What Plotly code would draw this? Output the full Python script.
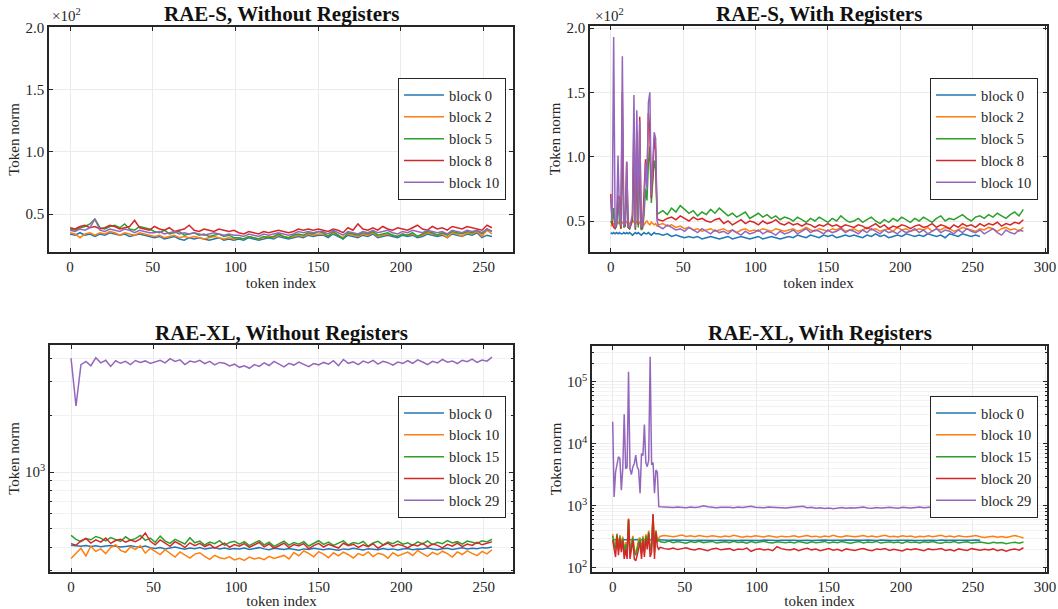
import plotly.graph_objects as go

# ---------------- data ----------------
X_LEFT = list(range(0, 256, 3))
X_RIGHT = list(range(0, 33)) + list(range(33, 288, 3))
X_RIGHT_B0 = list(range(0, 33)) + list(range(33, 256, 3))

COLORS = ["#1f77b4", "#ff7f0e", "#2ca02c", "#d62728", "#9467bd"]

# RAE-S, Without Registers (token norm)
TL_LABELS = ["block 0", "block 2", "block 5", "block 8", "block 10"]
TL_B0 = [34,33,35,33,34,32,34,33,35,34,33,34,32,33,34,33,32,
         31,32,30,31,32,30,29,31,30,31,30,29,30,31,29,30,29,
         30,29,31,30,29,30,31,30,32,31,30,31,32,31,33,32,33,
         33,31,34,32,30,33,32,31,33,32,34,31,32,33,32,31,33,
         32,33,31,32,34,33,32,33,31,34,33,32,34,33,35,31,33,32]
TL_B2 = [35,34,31,34,35,33,35,34,36,35,33,35,34,33,35,34,33,
         32,33,31,32,33,31,32,31,32,31,30,31,32,31,30,31,30,
         31,30,32,31,30,31,32,31,33,32,31,32,33,32,34,33,34,
         34,32,35,33,31,34,33,32,34,33,35,32,33,34,33,32,34,
         33,34,32,33,35,34,33,34,31,35,34,32,35,34,36,32,37,34]
TL_B5 = [38,37,39,40,42,46,39,38,40,41,39,42,38,37,40,39,38,
         36,35,37,34,35,36,33,34,35,33,34,32,33,34,32,33,31,
         31,30,32,31,30,32,31,32,34,32,31,33,34,33,35,34,36,
         35,32,36,33,30,35,34,33,35,34,36,33,34,35,33,32,34,
         33,35,32,34,36,35,33,35,33,36,35,34,36,35,37,34,38,36]
TL_B8 = [39,38,40,41,39,40,38,39,41,40,38,39,40,45,39,38,37,
         40,38,37,39,36,37,38,41,37,36,38,37,36,38,37,36,37,
         35,34,36,35,34,36,35,36,37,36,35,36,38,37,38,37,38,
         37,36,38,37,35,39,37,42,38,37,39,37,40,38,37,39,38,
         37,39,41,38,37,40,38,39,37,40,39,38,40,39,38,37,41,39]
TL_B10 = [37,36,38,37,39,46,37,36,38,37,36,38,37,35,37,36,35,
          35,36,34,35,36,34,35,34,35,34,33,34,35,34,33,34,33,
          33,32,34,33,32,34,33,34,35,34,33,34,36,35,36,35,36,
          36,34,37,35,33,36,35,34,36,35,37,35,36,37,35,34,36,
          35,37,36,35,37,36,35,36,34,37,36,35,37,36,37,35,38,36]

# RAE-S, With Registers
TR_LABELS = ["block 0", "block 2", "block 5", "block 8", "block 10"]
TR_B0 = [41,40,41,40,41,40,41,40,40,41,40,41,40,41,40,39,40,41,40,41,40,39,40,41,40,40,41,40,39,40,41,40,40,
         40,39,40,38,39,38,37,38,37,38,36,37,38,37,36,
         37,38,36,37,38,37,36,37,38,36,37,38,37,36,37,
         38,37,39,38,37,39,38,37,39,38,39,37,38,39,38,
         39,38,37,39,38,40,38,39,37,38,39,38,40,39,38,
         39,38,40,39,38,39,37,40,39,38,40,39,38,39,38]
TR_B2 = [46,47,48,47,49,48,50,47,49,48,50,49,47,48,50,51,49,48,50,47,49,50,48,47,49,50,48,47,49,48,47,48,46,
         47,48,46,47,45,46,44,45,43,44,42,43,44,42,43,
         44,42,43,41,43,44,42,43,42,44,43,42,44,43,42,
         43,44,42,43,45,43,42,44,43,42,44,43,45,42,43,
         44,42,43,45,43,44,42,43,44,42,45,43,44,42,43,
         44,43,45,42,44,43,45,44,42,43,45,44,43,42,44,
         43,45,44,42,44,45,43,44,42,45]
TR_B5 = [50,47,60,44,46,65,50,44,120,45,46,80,45,44,47,50,100,43,95,45,100,43,44,55,75,66,95,108,64,80,97,90,55,
         56,58,55,60,57,62,59,56,58,54,57,55,59,56,60,
         57,54,56,53,55,57,52,54,56,53,55,52,54,51,53,
         52,50,53,51,49,52,50,53,51,49,52,50,54,51,49,
         50,52,49,51,53,50,48,51,49,52,50,53,51,49,52,
         50,53,51,49,52,54,50,52,51,53,55,52,50,53,54,
         52,55,53,56,54,52,55,57,54,59]
TR_B8 = [71,48,45,44,47,70,68,44,150,46,47,96,45,44,48,52,130,44,120,47,131,44,46,70,98,80,134,120,68,85,115,105,52,
         51,50,52,53,51,54,52,50,53,51,52,50,49,51,52,
         48,50,47,49,51,48,50,49,47,50,48,49,51,48,47,
         49,47,48,46,48,47,45,47,46,48,46,47,45,47,46,
         45,47,46,44,46,48,45,47,44,46,45,47,46,44,46,
         47,45,46,48,45,47,46,44,47,45,48,46,47,45,48,
         46,48,47,49,46,48,47,49,48,51]
TR_B10 = [68,50,193,45,48,101,55,46,178,46,48,96,46,45,50,55,148,45,136,48,128,45,47,60,95,75,142,150,70,90,119,114,50,
          46,44,47,45,43,44,42,45,43,41,44,42,40,43,41,
          42,40,43,41,39,42,40,41,43,40,42,41,39,42,40,
          41,43,40,42,44,41,43,42,40,43,41,42,44,41,43,
          42,40,43,41,44,42,40,43,41,42,40,43,41,42,44,
          41,43,40,42,44,41,43,42,40,43,41,44,42,41,43,
          40,42,44,41,39,43,41,40,43,42]

# RAE-XL, Without Registers
BL_LABELS = ["block 0", "block 10", "block 15", "block 20", "block 29"]
BL_B0 = [410,406,405,408,404,407,402,406,409,405,401,404,407,403,400,406,398,
         394,399,392,397,401,395,390,396,393,398,391,395,399,392,396,390,394,
         391,396,389,394,398,392,388,395,391,389,394,390,386,392,389,395,391,
         388,393,390,386,392,389,395,391,387,393,390,388,394,389,392,387,391,
         394,388,392,390,396,391,388,393,395,389,392,397,391,395,393,398,396,401]
BL_B10 = [349,372,395,360,405,380,392,370,398,412,385,376,401,390,408,372,395,
          380,366,388,372,355,378,362,350,368,374,358,345,362,352,348,356,343,
          350,341,355,347,352,344,358,349,354,362,347,375,360,382,371,356,379,
          368,352,374,360,377,365,351,370,362,378,357,372,366,350,374,360,369,
          377,362,385,370,358,376,365,381,370,355,378,366,383,371,361,380,369,388]
BL_B15 = [462,440,428,445,438,456,447,432,450,441,429,454,436,444,462,435,447,
          425,458,431,419,440,427,416,449,422,431,411,426,418,433,409,424,430,
          415,428,408,420,434,412,425,404,418,431,410,423,415,428,406,421,433,
          414,426,409,420,432,411,424,417,429,405,421,430,412,426,418,431,415,
          422,409,427,416,432,413,425,418,434,421,428,415,431,424,419,433,427,441]
BL_B20 = [418,410,432,445,421,438,426,447,419,434,441,425,436,428,443,476,430,
          412,437,420,404,428,415,398,422,408,419,403,415,396,410,421,400,413,
          405,418,399,412,424,402,416,395,409,420,398,413,406,418,393,408,419,
          401,414,405,396,420,408,415,399,412,403,418,395,410,421,404,415,408,
          397,413,406,419,402,416,409,397,414,405,420,403,416,409,425,412,418,427]
BL_B29 = [4000,2240,3700,3850,3650,4020,3780,3900,3620,3880,3760,3850,3700,3890,3800,3870,3750,
          3830,3900,3780,3980,3850,3920,3700,3860,3810,3900,3740,3850,3690,3800,3760,3640,3720,
          3580,3650,3540,3700,3620,3780,3660,3850,3720,3600,3760,3680,3820,3700,3610,3750,3690,
          3800,3720,3880,3650,3940,3760,3830,3700,3860,3780,3900,3720,3850,3790,3680,3820,3750,
          3880,3760,3920,3820,3700,3850,3780,3940,3810,3870,3750,3900,3830,3960,3800,3910,3860,4050]

# RAE-XL, With Registers
BR_LABELS = ["block 0", "block 10", "block 15", "block 20", "block 29"]
BR_B0 = [285,284,286,285,287,284,286,285,284,286,285,287,284,285,286,284,285,287,285,284,286,285,284,286,285,287,284,285,286,285,284,286,285,
         284,282,280,283,281,279,282,280,278,281,279,283,280,278,281,
         279,282,280,277,281,279,283,280,278,282,279,281,277,280,282,
         279,281,278,282,280,277,281,279,283,280,278,281,279,282,280,
         278,281,279,283,280,277,282,279,281,278,280,283,279,281,278,
         280,282,279,281,278,283,280,279,282,280,278,281,279,282,280]
BR_B10 = [350,250,230,360,210,340,230,320,190,260,200,630,190,260,330,200,180,220,290,310,190,330,200,350,260,400,210,240,720,200,410,280,310,
          325,335,330,320,328,340,322,330,318,335,326,320,332,324,315,
          328,320,336,322,314,326,318,332,324,316,330,320,312,326,318,
          322,330,316,324,334,318,326,312,328,320,336,322,316,330,324,
          318,326,334,320,328,316,324,338,320,326,316,330,322,328,314,
          326,320,332,318,326,336,320,328,316,330,322,318,326,334,320,
          310,318,326,314,322,310,318,334,320,305]
BR_B15 = [330,230,200,350,190,320,210,300,170,240,180,600,170,240,310,180,160,200,260,290,170,310,180,330,240,380,190,220,700,180,390,260,290,
          265,258,272,255,268,262,250,266,258,270,255,262,268,252,260,
          264,256,270,258,262,250,266,255,262,270,258,252,264,260,256,
          262,254,268,258,250,264,256,260,268,252,262,256,266,258,250,
          260,266,254,262,258,268,252,260,264,256,262,250,266,258,262,
          254,264,258,268,256,250,262,258,266,254,260,264,252,258,262,
          256,248,260,252,258,246,254,260,250,262]
BR_B20 = [280,200,150,330,160,300,180,280,140,200,140,610,140,200,280,140,130,160,220,260,140,280,150,300,200,360,150,180,740,140,380,220,200,
          215,205,200,210,198,205,212,200,195,206,200,190,203,208,196,
          200,205,192,202,198,210,185,198,204,195,200,190,220,205,198,
          195,203,190,200,208,196,202,190,198,205,193,200,188,203,197,
          192,200,206,195,190,203,198,205,192,200,194,188,202,196,204,
          198,190,203,196,200,206,192,198,188,203,197,192,205,198,193,
          200,195,203,190,198,186,196,202,194,212]
BR_B29 = [22900,1400,3500,4500,6200,5800,1800,4000,30000,4000,4200,146000,4000,3200,4300,4800,6600,4300,3800,1600,
          7000,6500,20500,5000,4300,5500,256000,4600,5000,1600,3800,3500,980,
          970,960,955,945,965,950,940,958,945,960,1010,975,950,940,955,
          965,950,940,960,945,955,985,950,940,935,960,948,955,940,930,
          945,960,950,985,940,955,920,935,910,925,905,930,945,915,935,
          925,940,960,930,915,945,925,940,955,935,920,950,935,925,945,
          960,940,950,970,945,930,955,940,965,950,935,960,945,970,950,
          955,940,965,950,940,960,945,955,975,960]

TITLES = ["RAE-S, Without Registers", "RAE-S, With Registers",
          "RAE-XL, Without Registers", "RAE-XL, With Registers"]

# ---------------- figure ----------------
W, H = 1058, 609
FONT = "Liberation Serif"
fig = go.Figure()

panels = [
    ("x", "y", "legend", [X_LEFT] * 5, [TL_B0, TL_B2, TL_B5, TL_B8, TL_B10], TL_LABELS),
    ("x2", "y2", "legend2", [X_RIGHT_B0] + [X_RIGHT] * 4, [TR_B0, TR_B2, TR_B5, TR_B8, TR_B10], TR_LABELS),
    ("x3", "y3", "legend3", [X_LEFT] * 5, [BL_B0, BL_B10, BL_B15, BL_B20, BL_B29], BL_LABELS),
    ("x4", "y4", "legend4", [X_RIGHT_B0] + [X_RIGHT] * 4, [BR_B0, BR_B10, BR_B15, BR_B20, BR_B29], BR_LABELS),
]
for xa, ya, lg, xs, ys, labels in panels:
    for i in range(5):
        n = min(len(xs[i]), len(ys[i]))
        fig.add_trace(go.Scatter(x=xs[i][:n], y=ys[i][:n], mode="lines", name=labels[i],
                                 line=dict(color=COLORS[i], width=1.5),
                                 xaxis=xa, yaxis=ya, legend=lg))

def dx(a, b):
    return [a / W, b / W]

def dy(top, bottom):
    return [1 - bottom / H, 1 - top / H]

AX = dict(showline=True, linecolor="#262626", linewidth=1.6, mirror="allticks",
          ticks="inside", ticklen=4, tickwidth=1, tickcolor="#262626",
          showgrid=True, gridcolor="#ebebeb", gridwidth=1, zeroline=False,
          tickfont=dict(family=FONT, size=15, color="#262626"), automargin=False)
XT = dict(text="token index", font=dict(family=FONT, size=15, color="#262626"), standoff=1)
YT = dict(text="Token norm", font=dict(family=FONT, size=15, color="#262626"), standoff=2)

lin_ticks = dict(tickmode="array", tickvals=[50, 100, 150, 200], ticktext=["0.5", "1.0", "1.5", "2.0"])

fig.update_layout(
    width=W, height=H, margin=dict(l=0, r=0, t=0, b=0),
    paper_bgcolor="white", plot_bgcolor="white",
    font=dict(family=FONT, size=15, color="#262626"),
    xaxis=dict(AX, domain=dx(49, 513), range=[-12.75, 267.75], tickvals=[0, 50, 100, 150, 200, 250],
               title=XT, anchor="y"),
    yaxis=dict(AX, domain=dy(27, 252), range=[19.5, 200.3], title=YT, anchor="x", **lin_ticks),
    xaxis2=dict(AX, domain=dx(590, 1047), range=[-14.35, 301.35], tickvals=[0, 50, 100, 150, 200, 250, 300],
                title=XT, anchor="y2"),
    yaxis2=dict(AX, domain=dy(26, 252), range=[25.9, 201.6], title=YT, anchor="x2", **lin_ticks),
    xaxis3=dict(AX, domain=dx(50, 513), range=[-12.75, 267.75], tickvals=[0, 50, 100, 150, 200, 250],
                title=XT, anchor="y3"),
    yaxis3=dict(AX, domain=dy(345, 572), type="log", range=[2.471, 3.672], title=YT, anchor="x3",
                tickmode="array", tickvals=[1000], ticktext=["10<sup>3</sup>"],
                minor=dict(tickmode="array", tickvals=[300, 400, 500, 600, 700, 800, 900, 2000, 3000, 4000],
                           ticks="inside", ticklen=2, tickcolor="#262626", showgrid=True, gridcolor="#f2f2f2")),
    xaxis4=dict(AX, domain=dx(592, 1047), range=[-14.35, 301.35], tickvals=[0, 50, 100, 150, 200, 250, 300],
                title=XT, anchor="y4"),
    yaxis4=dict(AX, domain=dy(346, 572), type="log", range=[1.935, 5.58], title=YT, anchor="x4",
                tickmode="array", tickvals=[100, 1000, 10000, 100000],
                ticktext=["10<sup>2</sup>", "10<sup>3</sup>", "10<sup>4</sup>", "10<sup>5</sup>"],
                minor=dict(tickmode="array",
                           tickvals=[200, 300, 400, 500, 600, 700, 800, 900,
                                     2000, 3000, 4000, 5000, 6000, 7000, 8000, 9000,
                                     20000, 30000, 40000, 50000, 60000, 70000, 80000, 90000,
                                     200000, 300000],
                           ticks="inside", ticklen=2, tickcolor="#262626", showgrid=True, gridcolor="#f2f2f2")),
)

LEG = dict(bgcolor="white", bordercolor="#262626", borderwidth=1,
           font=dict(family=FONT, size=14.5, color="#262626"), itemwidth=40,
           xanchor="right", yanchor="top", xref="paper", yref="paper")
fig.update_layout(
    legend=dict(LEG, x=506 / W, y=1 - 78 / H),
    legend2=dict(LEG, x=1038 / W, y=1 - 78 / H),
    legend3=dict(LEG, x=506 / W, y=1 - 396 / H),
    legend4=dict(LEG, x=1038 / W, y=1 - 396 / H),
)

# subplot titles and offset labels
title_pos = [((49 + 513) / 2, 14), ((590 + 1047) / 2, 14), ((50 + 513) / 2, 333), ((592 + 1047) / 2, 333)]
for t, (cx, cy) in zip(TITLES, title_pos):
    fig.add_annotation(text="<b>" + t + "</b>", x=cx / W, y=1 - cy / H, xref="paper", yref="paper",
                       xanchor="center", yanchor="middle", showarrow=False,
                       font=dict(family=FONT, size=21, color="#111111"))
for lx in (50, 593):
    fig.add_annotation(text="\u00d710<sup>2</sup>", x=lx / W, y=1 - 15 / H, xref="paper", yref="paper",
                       xanchor="left", yanchor="middle", showarrow=False,
                       font=dict(family=FONT, size=15, color="#262626"))

fig.write_html("out.html")
